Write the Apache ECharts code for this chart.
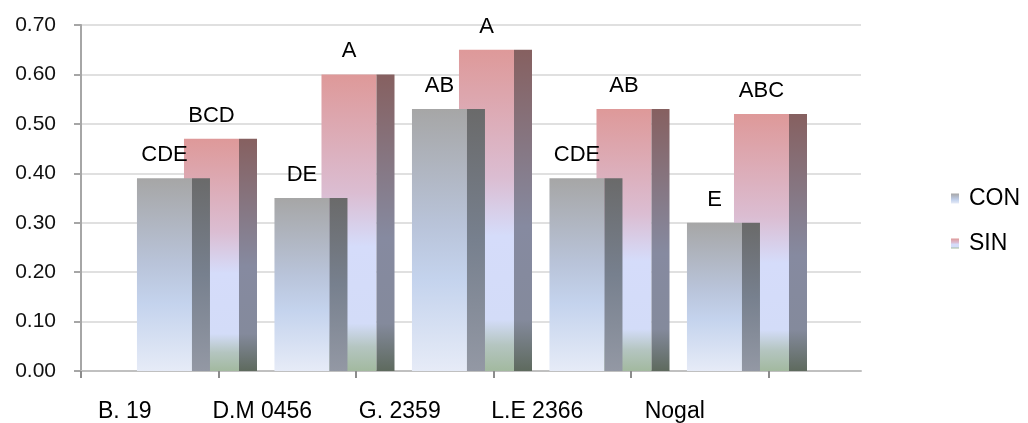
<!DOCTYPE html>
<html><head><meta charset="utf-8">
<script src="https://cdn.jsdelivr.net/npm/echarts@6/dist/echarts.min.js"></script>
<style>html,body{margin:0;padding:0;background:#fff}#c{width:1028px;height:423px}</style>
</head><body><div id="c"></div>
<script>
const categories = ['B. 19', 'D.M 0456', 'G. 2359', 'L.E 2366', 'Nogal'];
const conValues = [0.39, 0.35, 0.53, 0.39, 0.30];
const sinValues = [0.47, 0.60, 0.65, 0.53, 0.52];
const conLetters = ['CDE', 'DE', 'AB', 'CDE', 'E'];
const sinLetters = ['BCD', 'A', 'A', 'AB', 'ABC'];
const seriesNames = ['CON', 'SIN'];

const FONT = '"Liberation Sans", Arial, sans-serif';
const G = echarts.graphic.LinearGradient;
const conFront = new G(0,0,0,1,[{offset:0,color:'#a6a6a6'},{offset:0.45,color:'#b9c4da'},{offset:0.65,color:'#c4d3ed'},{offset:1,color:'#e6ebf7'}]);
const conSide = new G(0,0,0,1,[{offset:0,color:'#6a6a6a'},{offset:0.5,color:'#77808e'},{offset:1,color:'#9398a4'}]);
const sinFront = new G(0,0,0,1,[{offset:0,color:'#de9999'},{offset:0.4,color:'#dbbdd2'},{offset:0.58,color:'#d5dcfa'},{offset:0.84,color:'#d3dcf8'},{offset:0.92,color:'#b4c5c0'},{offset:1,color:'#a2b99f'}]);
const sinSide = new G(0,0,0,1,[{offset:0,color:'#866060'},{offset:0.55,color:'#868aa0'},{offset:0.84,color:'#848a9c'},{offset:1,color:'#5e6a5e'}]);

function makeRender(offsetFrac, letters, front, side) {
  return function (params, api) {
    const i = api.value(0), v = api.value(1);
    const top = api.coord([i, v]);
    const base = api.coord([i, 0]);
    const bw = api.size([1, 0])[0];
    const x0 = top[0] - bw / 2 + offsetFrac * bw;
    const fw = 0.4 * bw, sw = 0.131 * bw;
    const h = base[1] - top[1];
    return {
      type: 'group',
      children: [
        {type: 'rect', shape: {x: x0, y: top[1], width: fw, height: h}, style: {fill: front}},
        {type: 'rect', shape: {x: x0 + fw, y: top[1], width: sw, height: h}, style: {fill: side}},
        {type: 'text', style: {text: letters[i], x: x0 + fw / 2, y: top[1] - 23,
          align: 'center', verticalAlign: 'middle', textAlign: 'center', textVerticalAlign: 'middle',
          font: '22px ' + FONT, fill: '#000'}}
      ]
    };
  };
}

const chart = echarts.init(document.getElementById('c'));
chart.setOption({
  animation: false,
  backgroundColor: '#fff',
  textStyle: {fontFamily: FONT},
  grid: [
    {left: 81, right: 167, top: 25, bottom: 52},
    {left: 81, right: 259.5, top: 25, bottom: 52}
  ],
  legend: {
    orient: 'vertical', left: 946, top: 182, itemWidth: 8, itemHeight: 10, itemGap: 22,
    textStyle: {fontSize: 23, fontFamily: FONT, color: '#000', padding: [0, 0, 0, 5]},
    data: [
      {name: seriesNames[0], icon: 'rect', itemStyle: {color: conFront}},
      {name: seriesNames[1], icon: 'rect', itemStyle: {color: sinFront}}
    ]
  },
  xAxis: [
    {gridIndex: 0, type: 'value', min: 0, max: 1,
      axisLine: {show: true, onZero: false, lineStyle: {color: '#c0c0c0', width: 2}},
      axisTick: {show: false}, axisLabel: {show: false}, splitLine: {show: false}},
    {gridIndex: 1, type: 'category', data: categories,
      axisLine: {show: false},
      axisTick: {show: true, length: 7, lineStyle: {color: '#8c8c8c', width: 2}},
      axisLabel: {interval: 0, margin: 29, fontSize: 23, fontFamily: FONT, color: '#000', padding: [0, 50, 0, 0]},
      splitLine: {show: false}}
  ],
  yAxis: [
    {gridIndex: 0, type: 'value', min: 0, max: 0.7, interval: 0.1,
      axisLine: {show: true, lineStyle: {color: '#a6a6a6', width: 2}},
      axisTick: {show: true, length: 7, lineStyle: {color: '#a6a6a6', width: 2}},
      axisLabel: {margin: 25, fontSize: 21, fontFamily: FONT, color: '#111', formatter: v => v.toFixed(2)},
      splitLine: {show: true, lineStyle: {color: '#e0e0e0', width: 2}}},
    {gridIndex: 1, type: 'value', min: 0, max: 0.7, interval: 0.1, show: false, splitLine: {show: false}}
  ],
  series: [
    {name: seriesNames[1], type: 'custom', xAxisIndex: 1, yAxisIndex: 1, z: 2,
      itemStyle: {color: sinFront},
      renderItem: makeRender(0.749, sinLetters, sinFront, sinSide),
      data: sinValues.map((v, i) => [i, v])},
    {name: seriesNames[0], type: 'custom', xAxisIndex: 1, yAxisIndex: 1, z: 3,
      itemStyle: {color: conFront},
      renderItem: makeRender(0.407, conLetters, conFront, conSide),
      data: conValues.map((v, i) => [i, v])}
  ]
});
</script></body></html>
